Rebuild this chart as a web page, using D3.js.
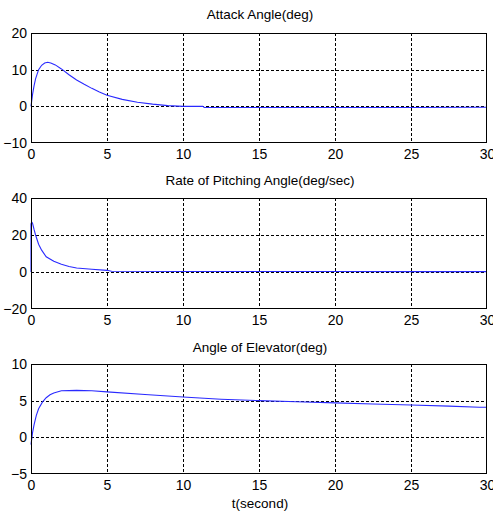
<!DOCTYPE html>
<html><head><meta charset="utf-8">
<script src="https://cdn.jsdelivr.net/npm/d3@7"></script>
<style>body{margin:0;background:#fff}svg{display:block}text{font-family:"Liberation Sans",Arial,sans-serif;fill:#000}</style>
</head><body><svg id="c" width="493" height="515"></svg>
<script>
const xTicks = [0,5,10,15,20,25,30];
const titles = ["Attack Angle(deg)","Rate of Pitching Angle(deg/sec)","Angle of Elevator(deg)"];
const yTicksA = [-10,0,10,20];
const yTicksB = [-20,0,20,40];
const yTicksC = [-5,0,5,10];
const xLabel = "t(second)";
// Attack angle
const tA = [0,0.1,0.2,0.3,0.5,0.7,0.9,1.1,1.3,1.6,2.0,2.5,3.0,3.5,4.0,4.5,5.0,6.0,7.0,8.0,9.0,10,11.3,11.4,15,20,25,30];
const vA = [0,3.2,5.6,7.5,10.0,11.2,11.8,12.0,11.8,11.3,10.2,8.6,7.2,6.0,4.9,3.9,3.0,1.9,1.1,0.6,0.2,0.0,0.0,-0.3,-0.3,-0.3,-0.3,-0.25];
// Rate of pitching
const tB = [0,0,0.05,0.1,0.2,0.3,0.5,0.7,1.0,1.5,2.0,2.5,3.0,4.0,5.0,5.3,10,15,20,25,30];
const vB = [0,26,27,26.4,23,20,15,11.8,8.2,5.8,4.2,3.0,2.2,1.5,0.9,0.4,0.3,0.3,0.25,0.2,0.2];
// Angle of elevator
const tC = [0,0.1,0.2,0.35,0.5,0.75,1.0,1.25,1.5,2.0,3.0,4.0,5.0,7.5,10,12.5,15,17.5,20,22.5,25,27.5,29.5,30];
const vC = [-1.0,0.6,1.7,3.0,3.9,4.8,5.4,5.8,6.05,6.35,6.4,6.35,6.2,5.85,5.5,5.2,5.0,4.85,4.7,4.55,4.4,4.25,4.1,4.1];

const series = [[tA,vA,yTicksA],[tB,vB,yTicksB],[tC,vC,yTicksC]];
const panels = [{top:33,bottom:143,ty:19},{top:198,bottom:309,ty:185},{top:364,bottom:474,ty:352}];
const left=31,right=487;
const svg=d3.select("#c");
const x=d3.scaleLinear().domain([0,30]).range([left,right]);

series.forEach((s,i)=>{
  const p=panels[i];
  const yt=s[2];
  const y=d3.scaleLinear().domain([yt[0],yt[yt.length-1]]).range([p.bottom,p.top]);
  const g=svg.append("g");
  g.selectAll(".gx").data(xTicks.slice(1,-1)).enter().append("line")
    .attr("x1",d=>Math.round(x(d))+0.5).attr("x2",d=>Math.round(x(d))+0.5)
    .attr("y1",p.top).attr("y2",p.bottom)
    .attr("stroke","#000").attr("stroke-dasharray","3,2").attr("stroke-width",1);
  g.selectAll(".gy").data(yt.slice(1,-1)).enter().append("line")
    .attr("y1",d=>Math.round(y(d))+0.5).attr("y2",d=>Math.round(y(d))+0.5)
    .attr("x1",left).attr("x2",right)
    .attr("stroke","#000").attr("stroke-dasharray","3,2").attr("stroke-width",1);
  const line=d3.line().x((d,j)=>x(s[0][j])).y((d,j)=>y(s[1][j])).curve(d3.curveLinear);
  g.append("path").datum(s[0]).attr("d",line).attr("fill","none").attr("stroke","#2a2aff").attr("stroke-width",1.1);
  g.append("rect").attr("x",left+0.5).attr("y",p.top+0.5).attr("width",right-left-1).attr("height",p.bottom-p.top-1)
    .attr("fill","none").attr("stroke","#000");
  const ax=d3.axisBottom(x).tickValues(xTicks).tickSize(0).tickPadding(6);
  const axg=g.append("g").attr("transform",`translate(0,${p.bottom})`).call(ax);
  const ay=d3.axisLeft(y).tickValues(yt).tickSize(0).tickPadding(4);
  const ayg=g.append("g").attr("transform",`translate(${left},0)`).call(ay);
  [axg,ayg].forEach(a=>{a.select(".domain").remove();a.selectAll("text").style("font-size","14px").style("font-family","Liberation Sans, Arial, sans-serif");});
  g.append("text").attr("x",(left+right)/2+1).attr("y",p.ty).attr("text-anchor","middle").style("font-size","13.5px").text(titles[i]);
});
svg.append("text").attr("x",(left+right)/2+1).attr("y",508).attr("text-anchor","middle").style("font-size","13.5px").text(xLabel);
</script></body></html>
